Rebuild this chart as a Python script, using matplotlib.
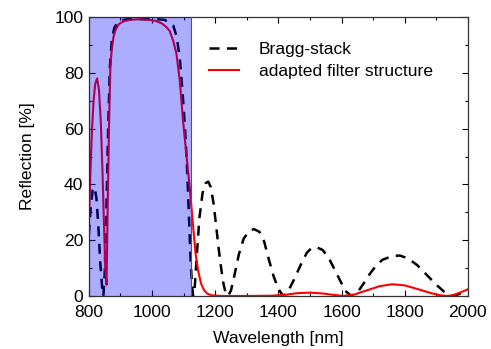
import matplotlib
matplotlib.use("Agg")
import matplotlib.pyplot as plt
from matplotlib.ticker import MultipleLocator

plt.rcParams['font.family'] = ['Liberation Sans', 'DejaVu Sans']

bragg_wl = [800, 806, 812, 818, 824, 830, 836, 842, 846, 850, 855, 860, 866, 872, 880, 890,
            900, 920, 940, 960, 980, 1000, 1020, 1040, 1055, 1067, 1078, 1088, 1096, 1104,
            1110, 1114, 1118, 1122, 1126, 1130, 1135, 1142, 1150, 1160, 1170, 1178, 1186,
            1195, 1205, 1215, 1225, 1233, 1241, 1250, 1262, 1275, 1290, 1305, 1322, 1340,
            1355, 1370, 1385, 1400, 1415, 1430, 1450, 1470, 1490, 1505, 1520, 1540, 1560,
            1580, 1600, 1615, 1631, 1650, 1670, 1690, 1710, 1730, 1760, 1784, 1810, 1840,
            1870, 1900, 1925, 1953, 1975, 2000]
bragg_r = [22, 32, 38, 39, 35, 25, 12, 3, 0, 8, 28, 55, 81, 91, 96, 98,
           98.8, 99.2, 99.3, 99.3, 99.2, 99.3, 99.2, 99, 98, 97, 93, 85, 74, 61,
           48, 37, 25, 13, 5, 0, 3, 15, 28, 37, 40.5, 41, 39,
           33, 23, 13, 5, 1, 0, 2, 8, 15, 20.5, 23, 24, 23,
           19.5, 13, 7, 2.5, 0, 1.5, 6, 11, 15.5, 17.2, 17.5, 16.5, 13.5,
           9, 4.5, 1.5, 0, 1.2, 4.5, 8, 11, 13, 14.3, 14.5, 13.5, 11,
           7.5, 4, 1.5, 0, 0.8, 1.8]

filt_wl = [800, 805, 810, 815, 820, 826, 832, 838, 843, 848, 852, 856, 860, 864, 868, 872,
           878, 885, 895, 910, 930, 950, 970, 990, 1010, 1030, 1045, 1056, 1067, 1077,
           1088, 1098, 1105, 1112, 1120, 1130, 1138, 1146, 1155, 1165, 1175, 1190, 1220,
           1300, 1380, 1420, 1460, 1500, 1540, 1580, 1605, 1640, 1680, 1720, 1760, 1800,
           1840, 1880, 1910, 1932, 1950, 1975, 2000]
filt_r = [26, 45, 60, 70, 76, 78, 74, 62, 45, 25, 10, 4, 35, 62, 82, 88,
          93, 95.5, 97.5, 98.5, 99, 99.2, 99.2, 99, 98.7, 97.8, 96.5, 95, 91.5, 87,
          77, 63, 55, 47, 38, 25, 15, 9, 4.5, 2, 0.8, 0.2, 0,
          0, 0.1, 0.4, 1, 1.2, 0.9, 0.3, 0, 0.5, 2, 3.5, 4.2, 3.8,
          2.5, 1.1, 0.3, 0, 0.2, 1.2, 2.4]

band_start, band_end = 800, 1122

fs = 12.6
fig = plt.figure(figsize=(4.91, 3.49), dpi=100)
ax = fig.add_axes([0.181, 0.152, 0.772, 0.799])

ax.plot(bragg_wl, bragg_r, color='black', lw=1.8, dashes=(4, 3), label='Bragg-stack', zorder=2)
ax.plot(filt_wl, filt_r, color='#ff0000', lw=1.5, label='adapted filter structure', zorder=2)
ax.axvspan(band_start, band_end, color='#0000ff', alpha=0.32, lw=0, zorder=3)
ax.axvline(band_end, color='#555555', lw=0.8, zorder=3)

ax.set_xlim(800, 2000)
ax.set_ylim(0, 100)
ax.xaxis.set_major_locator(MultipleLocator(200))
ax.xaxis.set_minor_locator(MultipleLocator(100))
ax.yaxis.set_major_locator(MultipleLocator(20))
ax.yaxis.set_minor_locator(MultipleLocator(10))
ax.tick_params(which='both', direction='in', top=True, right=True, labelsize=fs)
ax.tick_params(axis='x', pad=6.5)
ax.tick_params(axis='y', pad=4)
ax.tick_params(which='major', length=4, width=0.8)
ax.tick_params(which='minor', length=2.5, width=0.8)
for s in ax.spines.values():
    s.set_linewidth(0.9)
    s.set_color('#333333')

ax.set_xlabel('Wavelength [nm]', fontsize=fs, labelpad=8)
ax.set_ylabel('Reflection [%]', fontsize=fs, labelpad=14)

leg = ax.legend(loc='upper left', bbox_to_anchor=(0.285, 0.955), frameon=False, fontsize=fs,
                handlelength=1.7, handletextpad=1.15, labelspacing=0.4, borderaxespad=0.3)

fig.savefig('out.png', dpi=100)
